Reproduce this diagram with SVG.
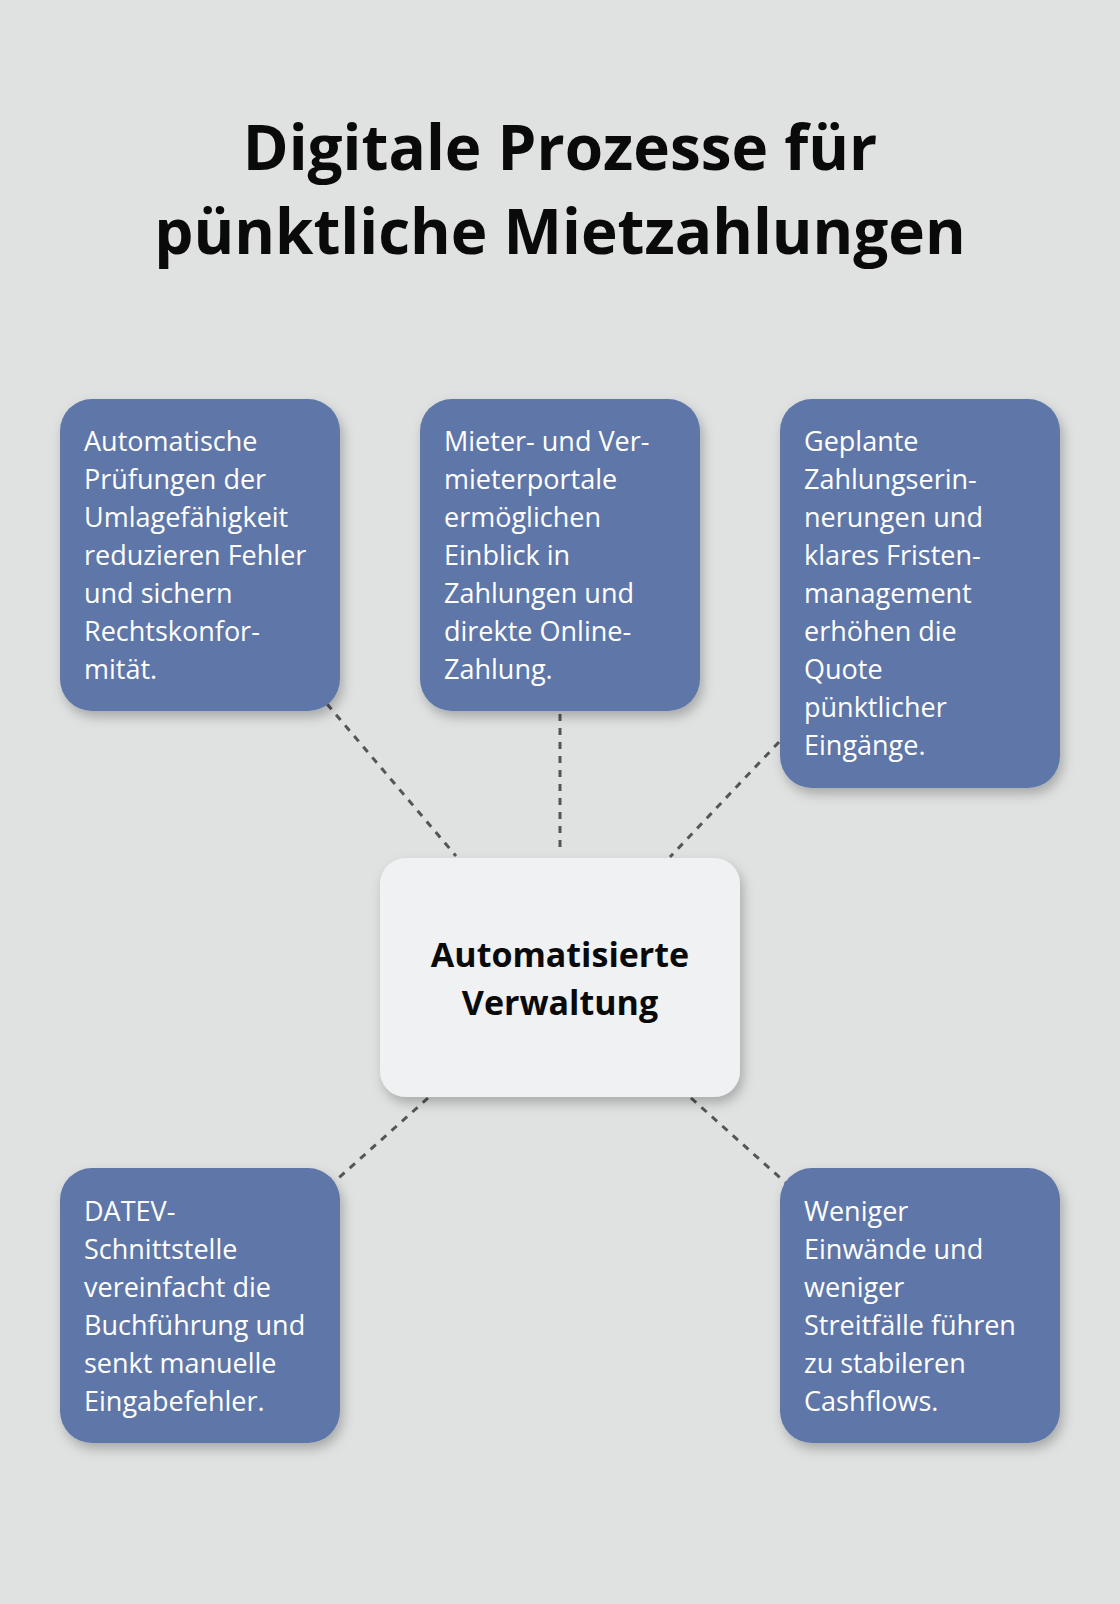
<svg xmlns="http://www.w3.org/2000/svg" width="1120" height="1604" viewBox="0 0 1120 1604">
<style>
.t{font-family:"Open Sans","Noto Sans",sans-serif}
.title{font-size:62px;font-weight:bold;fill:#0a0a0a;text-anchor:middle}
.box{fill:#5e77a8;filter:url(#sh)}
.bt{font-size:27px;fill:#fff}
.ct{font-size:34px;font-weight:bold;fill:#0a0a0a;text-anchor:middle}
.c{stroke:#555;stroke-width:3;stroke-dasharray:7 7;fill:none}
</style>
<defs><filter id="sh" x="-20%" y="-20%" width="140%" height="140%"><feDropShadow dx="3" dy="6" stdDeviation="6" flood-color="#000" flood-opacity="0.25"/></filter></defs>
<rect width="1120" height="1604" fill="#e0e2e1"/>
<text class="t title" x="560" y="170">Digitale Prozesse für</text>
<text class="t title" x="560" y="254">pünktliche Mietzahlungen</text>
<g id="connectors">
<line class="c" x1="327" y1="704" x2="456" y2="856"/>
<line class="c" x1="560" y1="714" x2="560" y2="851"/>
<line class="c" x1="779" y1="742" x2="670" y2="857"/>
<line class="c" x1="428" y1="1098" x2="333" y2="1183"/>
<line class="c" x1="691" y1="1098" x2="786" y2="1183"/>
</g>
<g id="n1"><rect class="box" x="60" y="399" width="280" height="312" rx="32"/>
<text class="t bt" x="84"><tspan x="84" y="451">Automatische</tspan><tspan x="84" y="489">Prüfungen der</tspan><tspan x="84" y="527">Umlagefähigkeit</tspan><tspan x="84" y="565">reduzieren Fehler</tspan><tspan x="84" y="603">und sichern</tspan><tspan x="84" y="641">Rechtskonfor-</tspan><tspan x="84" y="679">mität.</tspan></text></g>
<g id="n2"><rect class="box" x="420" y="399" width="280" height="312" rx="32"/>
<text class="t bt"><tspan x="444" y="451">Mieter- und Ver-</tspan><tspan x="444" y="489">mieterportale</tspan><tspan x="444" y="527">ermöglichen</tspan><tspan x="444" y="565">Einblick in</tspan><tspan x="444" y="603">Zahlungen und</tspan><tspan x="444" y="641">direkte Online-</tspan><tspan x="444" y="679">Zahlung.</tspan></text></g>
<g id="n3"><rect class="box" x="780" y="399" width="280" height="389" rx="32"/>
<text class="t bt"><tspan x="804" y="451">Geplante</tspan><tspan x="804" y="489">Zahlungserin-</tspan><tspan x="804" y="527">nerungen und</tspan><tspan x="804" y="565">klares Fristen-</tspan><tspan x="804" y="603">management</tspan><tspan x="804" y="641">erhöhen die</tspan><tspan x="804" y="679">Quote</tspan><tspan x="804" y="717">pünktlicher</tspan><tspan x="804" y="755">Eingänge.</tspan></text></g>
<g id="center"><rect x="380" y="858" width="360" height="239" rx="26" fill="#eff1f3" filter="url(#sh)"/>
<text class="t ct"><tspan x="560" y="967">Automatisierte</tspan><tspan x="560" y="1015">Verwaltung</tspan></text></g>
<g id="n4"><rect class="box" x="60" y="1168" width="280" height="275" rx="32"/>
<text class="t bt"><tspan x="84" y="1221">DATEV-</tspan><tspan x="84" y="1259">Schnittstelle</tspan><tspan x="84" y="1297">vereinfacht die</tspan><tspan x="84" y="1335">Buchführung und</tspan><tspan x="84" y="1373">senkt manuelle</tspan><tspan x="84" y="1411">Eingabefehler.</tspan></text></g>
<g id="n5"><rect class="box" x="780" y="1168" width="280" height="275" rx="32"/>
<text class="t bt"><tspan x="804" y="1221">Weniger</tspan><tspan x="804" y="1259">Einwände und</tspan><tspan x="804" y="1297">weniger</tspan><tspan x="804" y="1335">Streitfälle führen</tspan><tspan x="804" y="1373">zu stabileren</tspan><tspan x="804" y="1411">Cashflows.</tspan></text></g>
</svg>
